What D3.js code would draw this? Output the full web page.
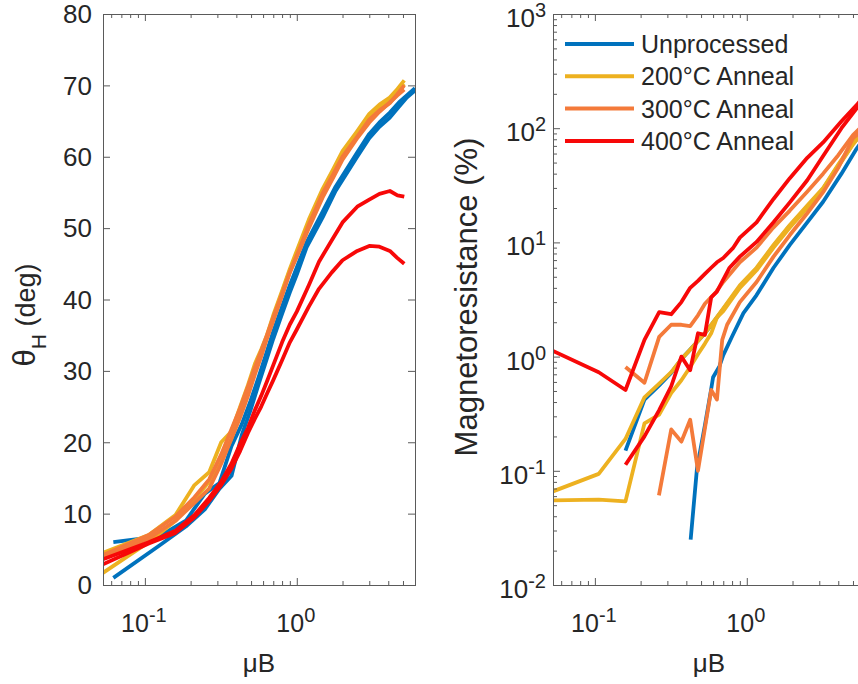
<!DOCTYPE html>
<meta charset="utf-8">
<style>
    html, body {
        margin: 0;
        background: #fff;
    }

    svg {
        display: block;
    }

    text {
        font-family: "Liberation Sans", Arial, Helvetica, sans-serif;
        fill: #262626;
    }

    .frame {
        fill: none;
        stroke: #5a5a5a;
        stroke-width: 1;
    }

    .ticks line {
        stroke: #5a5a5a;
        stroke-width: 1;
    }

    .curve {
        fill: none;
        stroke-width: 3.8;
        stroke-linejoin: round;
    }
</style>
<div id="chart"></div>
<script src="https://d3js.org/d3.v7.min.js"></script>
<script>
    // ---- data (x in muB, theta in deg, MR in %) ----
    var seriesNames = ["Unprocessed", "200°C Anneal", "300°C Anneal", "400°C Anneal"];
    var seriesColors = ["#0072bd", "#edb120", "#f47a3a", "#f70808"];

    // left panel: Hall angle, two samples per condition
    var thBlueA = [[0.062,1.0],[0.124,5.5],[0.186,8.2],[0.248,10.6],[0.31,13.5],[0.372,15.3],[0.434,21.0],[0.496,24.5],[0.558,28],[0.62,31],[0.7,34.5],[0.8,38],[0.9,41],[1.0,43.5],[1.16,47.3],[1.48,51.5],[1.8,55.2],[2.48,59.9],[3.0,62.6],[3.5,64.2],[4.1,65.5],[4.7,67.0],[5.3,68.3],[6.0,69.3]];
    var thBlueB = [[0.062,6.0],[0.124,6.8],[0.186,9.0],[0.248,12.8],[0.31,14.3],[0.372,19.5],[0.434,22.5],[0.496,25.8],[0.558,29],[0.62,32],[0.7,35.5],[0.8,39],[0.9,42],[1.0,44.5],[1.16,48],[1.48,52.3],[1.8,55.8],[2.48,60.5],[3.0,63.2],[3.5,64.8],[4.1,66.2],[4.7,67.6],[5.3,68.6],[6.0,69.6]];
    var thYellowA = [[0.053,4.5],[0.106,7.0],[0.159,9.8],[0.212,14.0],[0.265,15.8],[0.318,20.0],[0.371,21.5],[0.424,25],[0.477,28],[0.53,31],[0.583,33],[0.636,35],[0.7,37.8],[0.8,41.2],[0.9,44.3],[1.05,48],[1.2,51.2],[1.48,55.5],[1.73,58.2],[2.0,60.8],[2.48,63.5],[3.0,66],[3.5,67.3],[4.09,68.3],[4.6,69.5],[5.1,70.7]];
    var thYellowB = [[0.053,1.7],[0.106,6.0],[0.159,9.0],[0.212,12.0],[0.265,14.5],[0.318,17.5],[0.371,20.5],[0.424,24],[0.477,27],[0.53,30],[0.583,32.5],[0.636,34.8],[0.7,37.5],[0.8,41],[0.9,44],[1.05,47.6],[1.2,50.8],[1.48,55.2],[1.73,57.8],[2.0,60.4],[2.48,63.2],[3.0,65.6],[3.5,67],[4.09,68.1],[4.6,69.2],[5.1,70.2]];
    var thOrangeA = [[0.053,3.8],[0.106,6.5],[0.159,9.0],[0.212,11.5],[0.265,13.5],[0.318,17],[0.371,20.5],[0.424,23.5],[0.477,26.5],[0.53,29.5],[0.583,32.0],[0.636,34.5],[0.7,37],[0.8,40.5],[0.9,43.8],[1.05,47.3],[1.2,50.5],[1.48,54.9],[1.73,57.5],[2.0,60],[2.48,62.7],[3.0,65.2],[3.5,66.5],[4.09,67.5],[4.6,68.8],[5.1,70.0]];
    var thOrangeB = [[0.053,4.2],[0.106,7.0],[0.159,9.6],[0.212,12.3],[0.265,14.8],[0.318,18.3],[0.371,21.8],[0.424,24.8],[0.477,27.8],[0.53,30.5],[0.583,32.8],[0.636,35],[0.7,37.5],[0.8,40.8],[0.9,43.8],[1.05,47],[1.2,50],[1.48,54.3],[1.73,57],[2.0,59.6],[2.48,62.5],[3.0,64.8],[3.5,66.3],[4.09,67.6],[4.6,68.6],[5.1,69.4]];
    var thRedA = [[0.053,3.6],[0.106,6.0],[0.159,7.6],[0.212,9.8],[0.265,12.2],[0.318,14.5],[0.371,17.0],[0.424,19.8],[0.477,22],[0.53,24.5],[0.583,26.5],[0.636,28.5],[0.7,30.8],[0.8,34],[0.9,36.5],[1.0,38.3],[1.2,42],[1.4,45.3],[1.7,48.3],[2.0,50.8],[2.5,53],[3.0,54],[3.5,54.8],[4.1,55.2],[4.6,54.6],[5.1,54.4]];
    var thRedB = [[0.053,2.9],[0.106,5.8],[0.159,7.3],[0.212,9.5],[0.265,11.8],[0.318,14],[0.371,16.3],[0.424,18.8],[0.477,21.3],[0.53,23.3],[0.583,25],[0.636,26.8],[0.7,28.7],[0.8,31.5],[0.9,34],[1.0,35.8],[1.2,39],[1.4,41.5],[1.7,43.8],[2.0,45.5],[2.5,46.8],[3.0,47.5],[3.5,47.4],[4.1,46.8],[4.6,45.8],[5.1,45.0]];

    // right panel: magnetoresistance, same samples
    var mrBlueA = [[0.427,0.025],[0.47,0.105],[0.53,0.25],[0.58,0.5],[0.6,0.66],[0.66,0.82],[0.7,1.03],[0.8,1.5],[0.95,2.4],[1.16,3.46],[1.5,6.0],[1.92,9.5],[2.5,15],[3.18,22.7],[4.2,40],[5.28,66],[6.0,84]];
    var mrBlueB = [[0.159,0.15],[0.212,0.42],[0.265,0.56],[0.318,0.72],[0.371,0.95],[0.424,1.15],[0.53,1.6],[0.7,2.6],[0.9,4.1],[1.16,5.9],[1.5,9.3],[1.92,14],[2.5,20.5],[3.18,29.5],[4.0,47],[5.0,73],[6.0,97]];
    var mrYellowA = [[0.053,0.066],[0.106,0.094],[0.159,0.19],[0.212,0.44],[0.265,0.58],[0.318,0.73],[0.371,0.95],[0.424,1.15],[0.53,1.6],[0.7,2.65],[0.9,4.2],[1.16,6.0],[1.5,9.5],[1.92,14.2],[2.5,21],[3.18,30],[4.0,48],[5.0,75],[6.0,100]];
    var mrYellowB = [[0.053,0.055],[0.106,0.056],[0.159,0.054],[0.212,0.26],[0.265,0.31],[0.318,0.48],[0.371,0.62],[0.424,0.81],[0.477,1.05],[0.53,1.3],[0.583,1.6],[0.636,2.2],[0.7,2.5],[0.9,4.0],[1.16,5.7],[1.5,9],[1.92,13.5],[2.5,20],[3.18,29],[4.0,46],[5.0,72],[6.0,97]];
    var mrOrangeA = [[0.159,0.81],[0.212,0.59],[0.265,1.49],[0.318,1.9],[0.371,1.9],[0.424,1.85],[0.477,2.3],[0.53,2.9],[0.63,3.7],[0.7,4.5],[0.9,6.7],[1.16,9],[1.49,13.4],[1.92,19],[2.48,27.5],[3.18,40],[4.0,58],[5.0,87],[6.0,110]];
    var mrOrangeB = [[0.264,0.061],[0.318,0.23],[0.371,0.18],[0.424,0.28],[0.477,0.10],[0.583,0.51],[0.636,0.42],[0.689,1.4],[0.742,1.9],[0.9,3.0],[1.16,4.5],[1.5,7.5],[1.92,11.6],[2.5,18],[3.18,27.5],[4.0,45],[5.0,82],[6.0,100]];
    var mrRedA = [[0.053,1.12],[0.106,0.73],[0.159,0.51],[0.212,1.4],[0.265,2.45],[0.318,2.35],[0.371,3.0],[0.424,4.0],[0.477,4.6],[0.53,5.3],[0.583,6.0],[0.636,6.7],[0.7,7.3],[0.81,8.9],[0.9,11],[1.16,15],[1.5,24],[1.92,36.5],[2.5,55],[3.18,75],[4.2,115],[5.3,160],[6.0,195]];
    var mrRedB = [[0.159,0.113],[0.212,0.2],[0.265,0.34],[0.318,0.55],[0.371,1.0],[0.424,0.76],[0.477,1.6],[0.53,1.55],[0.583,3.3],[0.636,3.7],[0.77,6.0],[0.9,7.5],[1.16,10.1],[1.5,15],[1.92,22.4],[2.5,35],[3.18,57],[4.2,100],[5.3,150],[6.0,180]];

    // tick values
    var thetaTicks = [0, 10, 20, 30, 40, 50, 60, 70, 80];
    var xMajor = [0.1, 1];
    var mrMajor = [0.01, 0.1, 1, 10, 100, 1000];

    // ---- layout ----
    // (can't call these top/bottom at global scope, window.top is taken)
    var width = 858, height = 684;
    var plotTop = 14, plotBottom = 585;

    var svg = d3.select("#chart")
        .append("svg")
        .attr("width", width)
        .attr("height", height);

    var xL = d3.scaleLog().domain([0.053, 6]).range([103, 415]);
    var yL = d3.scaleLinear().domain([0, 80]).range([plotBottom, plotTop]);
    var xR = d3.scaleLog().domain([0.053, 6]).range([553, 865]);
    var yR = d3.scaleLog().domain([0.01, 1000]).range([plotBottom, plotTop]);

    // minor log ticks: everything d3 gives that is not a decade
    function minors(scale) {
        return scale.ticks().filter(function(v) {
            var e = Math.log10(v);
            return Math.abs(e - Math.round(e)) > 1e-6;
        });
    }

    // inward ticks on all four sides, like matlab's box on
    function drawTicks(g, x, y, yTicks, yMinor) {
        var x0 = x.range()[0], x1 = x.range()[1];
        var ax = g.append("g").attr("class", "ticks");
        ax.append("g").attr("transform", "translate(0," + plotBottom + ")")
            .call(d3.axisBottom(x).tickValues(xMajor).tickSize(-7).tickFormat(""));
        ax.append("g").attr("transform", "translate(0," + plotBottom + ")")
            .call(d3.axisBottom(x).tickValues(minors(x)).tickSize(-4).tickFormat(""));
        ax.append("g").attr("transform", "translate(0," + plotTop + ")")
            .call(d3.axisTop(x).tickValues(xMajor).tickSize(-7).tickFormat(""));
        ax.append("g").attr("transform", "translate(0," + plotTop + ")")
            .call(d3.axisTop(x).tickValues(minors(x)).tickSize(-4).tickFormat(""));
        ax.append("g").attr("transform", "translate(" + x0 + ",0)")
            .call(d3.axisLeft(y).tickValues(yTicks).tickSize(-7).tickFormat(""));
        ax.append("g").attr("transform", "translate(" + x1 + ",0)")
            .call(d3.axisRight(y).tickValues(yTicks).tickSize(-7).tickFormat(""));
        if (yMinor) {
            ax.append("g").attr("transform", "translate(" + x0 + ",0)")
                .call(d3.axisLeft(y).tickValues(yMinor).tickSize(-4).tickFormat(""));
            ax.append("g").attr("transform", "translate(" + x1 + ",0)")
                .call(d3.axisRight(y).tickValues(yMinor).tickSize(-4).tickFormat(""));
        }
        ax.selectAll(".domain").remove();

        g.append("rect")
            .attr("class", "frame")
            .attr("x", x0 + 0.5)
            .attr("y", plotTop + 0.5)
            .attr("width", x1 - x0)
            .attr("height", plotBottom - plotTop);
    }

    // "10^n" labels, exponent nearly as big as the base (as in the original)
    function powerLabel(sel, v) {
        sel.append("tspan").text("10");
        sel.append("tspan")
            .attr("dy", -10)
            .style("font-size", "20px")
            .text(Math.round(Math.log10(v)));
    }

    function drawCurves(g, x, y, list, clipId) {
        var line = d3.line()
            .x(function(d) { return x(d[0]); })
            .y(function(d) { return y(d[1]); });
        g.append("clipPath").attr("id", clipId)
            .append("rect")
            .attr("x", x.range()[0]).attr("y", plotTop)
            .attr("width", x.range()[1] - x.range()[0]).attr("height", plotBottom - plotTop);
        g.append("g")
            .attr("clip-path", "url(#" + clipId + ")")
            .selectAll("path")
            .data(list)
            .enter().append("path")
            .attr("class", "curve")
            .attr("stroke", function(d) { return seriesColors[d.s]; })
            .attr("d", function(d) { return line(d.pts); });
    }

    // ---- left panel ----
    var gl = svg.append("g");
    drawCurves(gl, xL, yL, [
        {s: 0, pts: thBlueA}, {s: 0, pts: thBlueB},
        {s: 1, pts: thYellowA}, {s: 1, pts: thYellowB},
        {s: 2, pts: thOrangeA}, {s: 2, pts: thOrangeB},
        {s: 3, pts: thRedA}, {s: 3, pts: thRedB}
    ], "clipL");
    drawTicks(gl, xL, yL, thetaTicks, null);

    gl.selectAll("text.ylab")
        .data(thetaTicks)
        .enter().append("text")
        .attr("class", "ylab")
        .attr("x", 92)
        .attr("y", function(d) { return yL(d); })
        .attr("dy", "0.36em")
        .attr("text-anchor", "end")
        .style("font-size", "26px")
        .text(function(d) { return d; });

    gl.selectAll("text.xlab")
        .data(xMajor)
        .enter().append("text")
        .attr("class", "xlab")
        .attr("x", function(d) { return xL(d) - 1; })
        .attr("y", 632)
        .attr("text-anchor", "middle")
        .style("font-size", "25px")
        .each(function(d) { powerLabel(d3.select(this), d); });

    gl.append("text")
        .attr("x", 259)
        .attr("y", 672)
        .attr("text-anchor", "middle")
        .style("font-size", "26px")
        .text("μB");

    var yt = gl.append("text")
        .attr("transform", "translate(35,315) rotate(-90)")
        .attr("text-anchor", "middle")
        .style("font-size", "27px");
    yt.append("tspan").style("font-size", "31px").text("θ");
    yt.append("tspan").attr("dy", 11).style("font-size", "21px").text("H");
    yt.append("tspan").attr("dy", -11).text(" (deg)");

    // ---- right panel ----
    var gr = svg.append("g");
    drawCurves(gr, xR, yR, [
        {s: 0, pts: mrBlueA}, {s: 0, pts: mrBlueB},
        {s: 1, pts: mrYellowA}, {s: 1, pts: mrYellowB},
        {s: 2, pts: mrOrangeA}, {s: 2, pts: mrOrangeB},
        {s: 3, pts: mrRedA}, {s: 3, pts: mrRedB}
    ], "clipR");
    drawTicks(gr, xR, yR, mrMajor, minors(yR));

    gr.selectAll("text.ylab")
        .data(mrMajor)
        .enter().append("text")
        .attr("class", "ylab")
        .attr("x", 546)
        .attr("y", function(d) { return yR(d) + 13; })
        .attr("text-anchor", "end")
        .style("font-size", "26px")
        .each(function(d) { powerLabel(d3.select(this), d); });

    gr.selectAll("text.xlab")
        .data(xMajor)
        .enter().append("text")
        .attr("class", "xlab")
        .attr("x", function(d) { return xR(d) - 1; })
        .attr("y", 632)
        .attr("text-anchor", "middle")
        .style("font-size", "25px")
        .each(function(d) { powerLabel(d3.select(this), d); });

    gr.append("text")
        .attr("x", 709)
        .attr("y", 672)
        .attr("text-anchor", "middle")
        .style("font-size", "26px")
        .text("μB");

    gr.append("text")
        .attr("transform", "translate(477,297) rotate(-90)")
        .attr("text-anchor", "middle")
        .style("font-size", "31px")
        .text("Magnetoresistance (%)");

    // legend, no box
    var legend = gr.append("g").attr("class", "legend");
    var row = legend.selectAll("g")
        .data(seriesNames)
        .enter().append("g")
        .attr("transform", function(d, i) { return "translate(0," + (44 + i * 32.3) + ")"; });
    row.append("line")
        .attr("x1", 565).attr("x2", 634)
        .attr("stroke-width", 4)
        .attr("stroke", function(d, i) { return seriesColors[i]; });
    row.append("text")
        .attr("x", 641)
        .attr("dy", "0.36em")
        .style("font-size", "25px")
        .text(function(d) { return d; });
</script>
